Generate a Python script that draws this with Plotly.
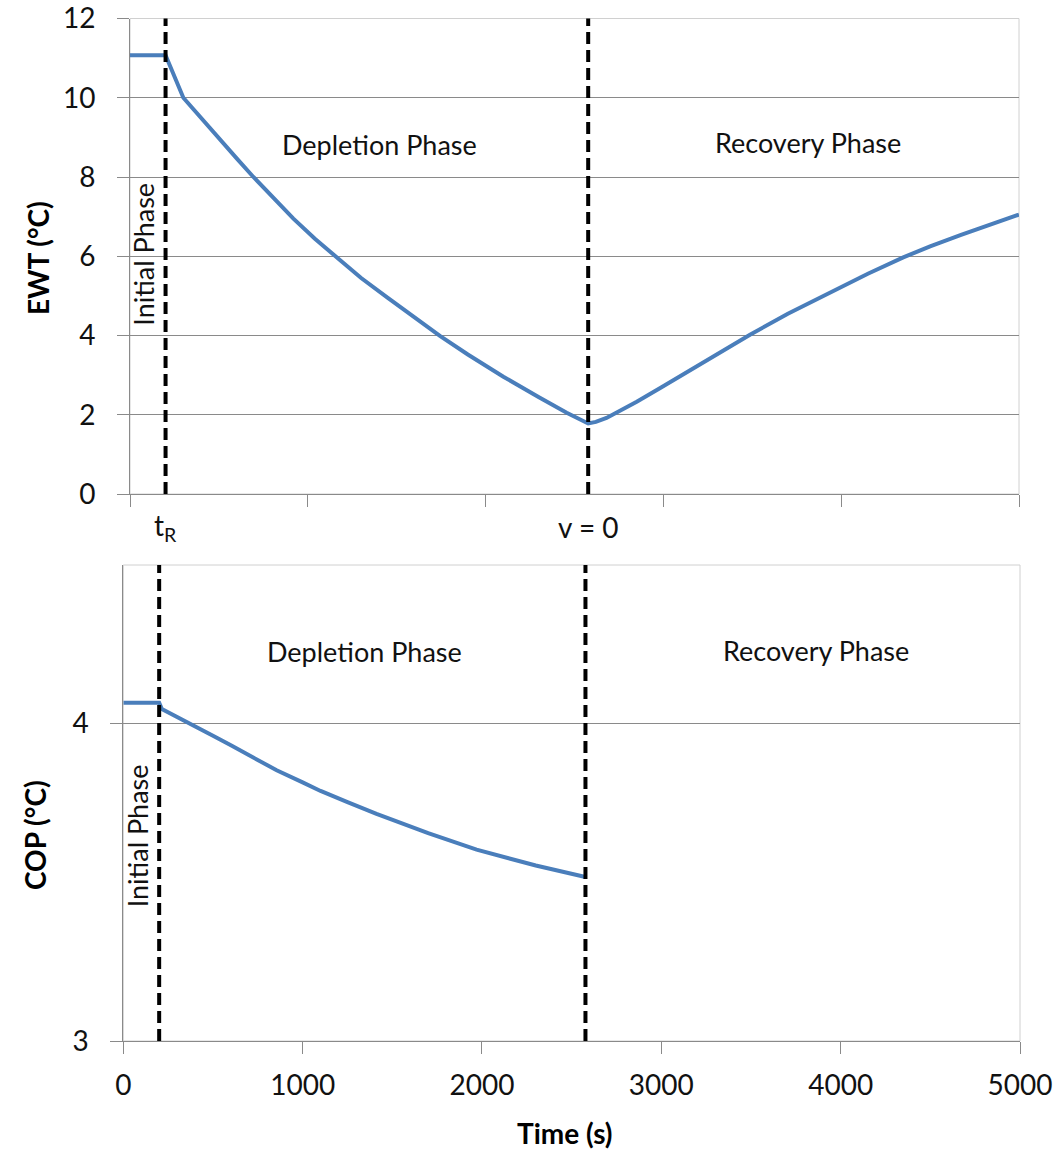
import plotly.graph_objects as go

# ---- data -------------------------------------------------------------
t_ewt = [0, 200, 300, 400, 506, 600, 694, 800, 919, 1040, 1162, 1300, 1450,
         1600, 1743, 1900, 2100, 2300, 2456, 2577,
         2620, 2680, 2750, 2850, 2987, 3120, 3250, 3487, 3700, 3924, 4150,
         4349, 4500, 4674, 4850, 5000]
ewt = [11.07, 11.07, 10.0, 9.48, 8.95, 8.47, 8.0, 7.5, 6.95, 6.44, 5.97, 5.45, 4.95,
       4.45, 3.99, 3.52, 2.96, 2.44, 2.05, 1.78,
       1.82, 1.92, 2.08, 2.33, 2.69, 3.04, 3.38, 4.02, 4.55, 5.06, 5.56,
       5.97, 6.25, 6.54, 6.82, 7.05]

t_cop = [0, 200, 215, 300, 390, 500, 600, 725, 855, 1000, 1100, 1250, 1412,
         1700, 1970, 2300, 2577]
cop = [4.066, 4.066, 4.046, 4.02, 3.995, 3.962, 3.932, 3.892, 3.853, 3.815, 3.788,
       3.753, 3.716, 3.655, 3.603, 3.553, 3.517]

t_R = 200          # end of initial phase
t_v0 = 2577        # flow stops (v = 0)

x_ticks = [0, 1000, 2000, 3000, 4000, 5000]
ewt_ticks = [0, 2, 4, 6, 8, 10, 12]
cop_ticks = [3, 4]

# ---- layout helpers ---------------------------------------------------
W, H = 1062, 1153
def px_x(p):
    return p / W
def px_y(p):
    return 1 - p / H

FONT = "Lato, 'Open Sans', sans-serif"
BLUE = "#4a7ebb"
GRID = "#8a8a8a"
BORDER = "#d0d0d0"
TICKFONT = dict(family=FONT, size=28, color="#111111")
TEXTFONT = dict(family=FONT, size=27, color="#111111")
TITLEFONT = dict(family=FONT, size=28, color="#000000", weight="bold")

fig = go.Figure()

fig.add_trace(go.Scatter(x=t_ewt, y=ewt, mode="lines",
                         line=dict(color=BLUE, width=4),
                         xaxis="x", yaxis="y", showlegend=False))
fig.add_trace(go.Scatter(x=t_cop, y=cop, mode="lines",
                         line=dict(color=BLUE, width=4),
                         xaxis="x2", yaxis="y2", showlegend=False))

axis_common = dict(showline=True, linecolor=GRID, linewidth=1,
                   ticks="outside", ticklen=12, tickcolor=GRID, tickwidth=1,
                   zeroline=False, fixedrange=True, automargin=False)

fig.update_layout(
    template="none",
    width=W, height=H,
    margin=dict(l=0, r=0, t=0, b=0),
    paper_bgcolor="white", plot_bgcolor="white",
    xaxis=dict(domain=[px_x(130), px_x(1019)], range=[0, 5000],
               tickvals=x_ticks, showticklabels=False, showgrid=False,
               anchor="y", **axis_common),
    yaxis=dict(domain=[px_y(494), px_y(18.5)], range=[0, 12],
               tickvals=ewt_ticks, showgrid=True, gridcolor=GRID, gridwidth=1,
               tickfont=TICKFONT, ticklabelstandoff=16,
               anchor="x", **axis_common),
    xaxis2=dict(domain=[px_x(123.3), px_x(1020)], range=[0, 5000],
                tickvals=x_ticks, showgrid=False, tickfont=TICKFONT,
                ticklabelstandoff=7, anchor="y2", **axis_common),
    yaxis2=dict(domain=[px_y(1041), px_y(565)], range=[3, 4.5],
                tickvals=cop_ticks, showgrid=True, gridcolor=GRID, gridwidth=1,
                tickfont=TICKFONT, ticklabelstandoff=16,
                anchor="x2", **axis_common),
)

# plot-area frames and phase boundaries
shapes = []
for xr, yr in (("x", "y"), ("x2", "y2")):
    shapes.append(dict(type="rect", xref=f"{xr} domain", yref=f"{yr} domain",
                       x0=0, x1=1, y0=0, y1=1,
                       line=dict(color=BORDER, width=1), layer="below"))
    for tv in (t_R, t_v0):
        shapes.append(dict(type="line", xref=xr, yref=f"{yr} domain",
                           x0=tv, x1=tv, y0=0, y1=1,
                           line=dict(color="black", width=4, dash="12px,6px"),
                           layer="above"))
fig.update_layout(shapes=shapes)

C = dict(xanchor="center", yanchor="middle", showarrow=False)
ann = []
# phase labels, top panel
ann.append(dict(x=1406, y=8.81, xref="x", yref="y", text="Depletion Phase",
                font=TEXTFONT, **C))
ann.append(dict(x=3813, y=8.86, xref="x", yref="y", text="Recovery Phase",
                font=TEXTFONT, **C))
ann.append(dict(x=79, y=6.04, xref="x", yref="y", text="Initial Phase",
                textangle=-90, font=TEXTFONT, **C))
# phase labels, bottom panel
ann.append(dict(x=1347, y=4.228, xref="x2", yref="y2", text="Depletion Phase",
                font=TEXTFONT, **C))
ann.append(dict(x=3861, y=4.231, xref="x2", yref="y2", text="Recovery Phase",
                font=TEXTFONT, **C))
ann.append(dict(x=76, y=3.648, xref="x2", yref="y2", text="Initial Phase",
                textangle=-90, font=TEXTFONT, **C))
# event labels under the top axis
ann.append(dict(x=t_R, y=px_y(527), xref="x", yref="paper",
                text="t<sub>R</sub>", font=TICKFONT, **C))
ann.append(dict(x=t_v0, y=px_y(527), xref="x", yref="paper",
                text="v = 0", font=TICKFONT, **C))
# axis titles
ann.append(dict(x=px_x(38), y=px_y(258), xref="paper", yref="paper",
                text="EWT (°C)", textangle=-90, font=TITLEFONT, **C))
ann.append(dict(x=px_x(35), y=px_y(835), xref="paper", yref="paper",
                text="COP (°C)", textangle=-90, font=TITLEFONT, **C))
ann.append(dict(x=px_x(565), y=px_y(1133), xref="paper", yref="paper",
                text="Time (s)", font=TITLEFONT, **C))
fig.update_layout(annotations=ann)

fig.write_html("out.html")
